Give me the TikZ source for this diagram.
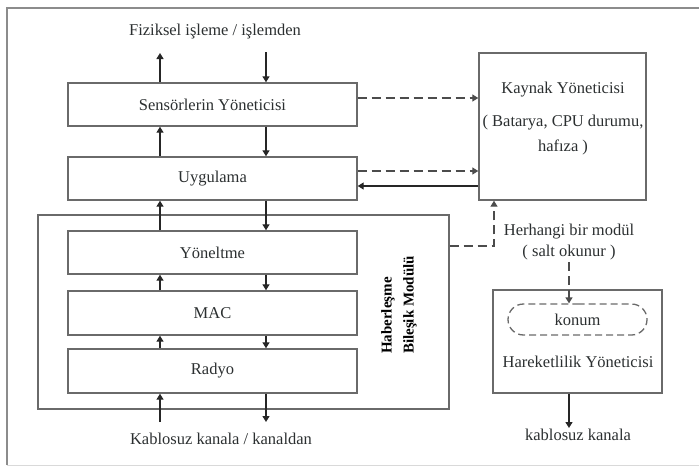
\documentclass[tikz,border=0pt]{standalone}
\usepackage{fontspec}
\setmainfont{Liberation Serif}
\usetikzlibrary{arrows.meta,shapes.misc,calc}
\definecolor{txt}{HTML}{2B2F30}
\definecolor{edge}{HTML}{6A6A6A}
\begin{document}
\begin{tikzpicture}[x=1pt,y=-1pt,
  font=\fontsize{16.5}{21}\selectfont,
  every node/.style={text=txt},
  box/.style={draw=edge,line width=1.4pt,inner sep=0pt},
  lbl/.style={inner sep=1pt,align=center},
  arr/.style={draw=black!85,line width=1.3pt,-{Triangle[length=6pt,width=7pt]}},
  darr/.style={draw=black!70,line width=1.3pt,dash pattern=on 9pt off 5pt,-{Triangle[length=6pt,width=7pt]}},
]
\useasboundingbox (0,0) rectangle (699,466);
% outer frame
\draw[draw=black!45,line width=1.6pt] (7,465) -- (7,8) -- (699,8);
\draw[draw=black!15,line width=1pt] (7,465) -- (699,465);

% protocol stack
\node[box,minimum width=411pt,minimum height=194pt] (comm) at (243.5,312) {};
\node[box,minimum width=289pt,minimum height=43pt] (sens) at (212.5,104.5) {Sensörlerin Yöneticisi};
\node[box,minimum width=289pt,minimum height=43pt] (app)  at (212.5,178.5) {Uygulama};
\node[box,minimum width=289pt,minimum height=43pt] (yon)  at (212.5,252.5) {Yöneltme};
\node[box,minimum width=289pt,minimum height=44pt] (mac)  at (212.5,313) {MAC};
\node[box,minimum width=289pt,minimum height=44pt] (rad)  at (212.5,371) {Radyo};
\node[rotate=90,align=left,inner sep=0pt,font=\bfseries\fontsize{15}{22}\selectfont,text=black] (hb) at (399,305) {Haberleşme\\Bileşik Modülü};

% resource and mobility managers
\node[box,minimum width=167pt,minimum height=147pt] (kay) at (562.5,126.5) {};
\node[lbl] (kayt) at (563,90) {Kaynak Yöneticisi};
\node[lbl] (kayd) at (563,135.5) {( Batarya, CPU durumu,\\[4pt]hafıza )};
\node[box,minimum width=169pt,minimum height=103pt] (har) at (577.5,341.5) {};
\node[draw=edge,line width=1.3pt,dash pattern=on 7pt off 4pt,rounded rectangle,minimum width=139pt,minimum height=31pt,inner sep=0pt] (konum) at (577.5,319.5) {konum};
\node[lbl] (hart) at (578,362) {Hareketlilik Yöneticisi};

% free labels
\node[lbl] (top) at (215,32) {Fiziksel işleme / işlemden};
\node[lbl] (bot) at (221,439) {Kablosuz kanala / kanaldan};
\node[lbl] (any) at (569,242.5) {Herhangi bir modül\\( salt okunur )};
\node[lbl] (kk)  at (578,435) {kablosuz kanala};

% reference columns and rows
\coordinate (upx) at (160,0);
\coordinate (dnx) at (266,0);
\coordinate (mx)  at (569,0);
\coordinate (kx)  at (494,0);
\coordinate (r1) at (0,98);
\coordinate (r2) at (0,171);
\coordinate (r3) at (0,186);
\coordinate (r4) at (0,246);
\coordinate (topup) at (160,53);
\coordinate (topdn) at (266,52);
\coordinate (botup) at (160,422);
\coordinate (botdn) at (266,422);
\coordinate (anyend) at (569,262);

% vertical data flow
\draw[arr] (sens.north -| upx) -- (topup);
\draw[arr] (topdn) -- (sens.north -| dnx);
\draw[arr] (app.north -| upx) -- (sens.south -| upx);
\draw[arr] (sens.south -| dnx) -- (app.north -| dnx);
\draw[arr] (yon.north -| upx) -- (app.south -| upx);
\draw[arr] (app.south -| dnx) -- (yon.north -| dnx);
\draw[arr] (mac.north -| upx) -- (yon.south -| upx);
\draw[arr] (yon.south -| dnx) -- (mac.north -| dnx);
\draw[arr] (rad.north -| upx) -- (mac.south -| upx);
\draw[arr] (mac.south -| dnx) -- (rad.north -| dnx);
\draw[arr] (botup) -- (rad.south -| upx);
\draw[arr] (rad.south -| dnx) -- (botdn);

% links to the resource manager
\draw[darr] (sens.east |- r1) -- (kay.west |- r1);
\draw[darr] (app.east |- r2) -- (kay.west |- r2);
\draw[arr] (kay.west |- r3) -- (app.east |- r3);
\draw[darr] (comm.east |- r4) -| (kay.south -| kx);

% mobility manager
\draw[darr] (anyend) -- (konum.north -| mx);
\draw[arr] (har.south -| mx) -- (kk.north -| mx);
\end{tikzpicture}
\end{document}
